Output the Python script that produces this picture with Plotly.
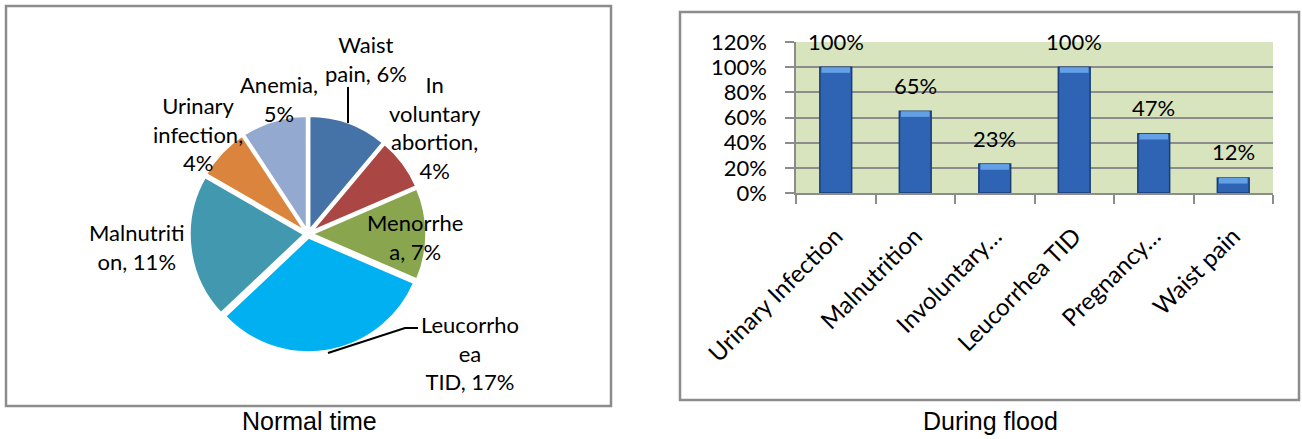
import plotly.graph_objects as go

W, H = 1302, 439

# ---------------- data ----------------
pie_categories = ["Waist pain", "In voluntary abortion", "Menorrhea", "Leucorrhoea TID",
                  "Malnutrition", "Urinary infection", "Anemia"]
pie_values = [6, 4, 7, 17, 11, 4, 5]
pie_label_wrap = ["Waist<br>pain", "In<br>voluntary<br>abortion", "Menorrhe<br>a",
                  "Leucorrho<br>ea<br>TID", "Malnutriti<br>on", "Urinary<br>infection", "Anemia"]
pie_label_sep = [" ", "<br>", " ", " ", " ", "<br>", "<br>"]
pie_colors = ["#4572A7", "#AA4643", "#89A54E", "#00B0F0", "#4198AF", "#DB843D", "#93A9CF"]

bar_categories = ["Urinary Infection", "Malnutrition", "Involuntary…", "Leucorrhea TID",
                  "Pregnancy…", "Waist pain"]
bar_values = [1.00, 0.65, 0.23, 1.00, 0.47, 0.12]
bar_labels = ["100%", "65%", "23%", "100%", "47%", "12%"]
y_tickvals = [0, 0.2, 0.4, 0.6, 0.8, 1.0, 1.2]
y_ticktext = ["0%", "20%", "40%", "60%", "80%", "100%", "120%"]

# ---------------- layout positions (pixels) ----------------
pie_label_pos = [(366, 59), (435, 127), (415, 237), (470, 353), (137, 247), (198, 134), (279, 99)]


def px(x):
    return x / W


def py(y):
    return 1 - y / H


LABEL_FONT = "Lato, Carlito, Calibri, sans-serif"
CAP_FONT = "Liberation Sans, Arial, sans-serif"

fig = go.Figure()

# pie
cx, cy, half = 308, 234, 118.5
fig.add_trace(go.Pie(
    labels=pie_categories, values=pie_values, sort=False, direction="clockwise",
    rotation=0, marker=dict(colors=pie_colors, line=dict(color="white", width=2.5)),
    pull=[0.03] * len(pie_values), textinfo="none", hoverinfo="label+value",
    showlegend=False,
    domain=dict(x=[px(cx - half), px(cx + half)], y=[py(cy + half), py(cy - half)]),
))

# bars (body + lighter bevel cap at the top of each bar)
cap = 0.045
fig.add_trace(go.Bar(
    x=bar_categories, y=bar_values, width=0.4,
    marker=dict(color="#2F64B4", line=dict(color="#1B3C74", width=1.5)),
    showlegend=False, hoverinfo="x+y",
))
fig.add_trace(go.Bar(
    x=bar_categories, y=[cap] * len(bar_values), base=[v - cap for v in bar_values], width=0.36,
    marker=dict(color="#63A0E6", line=dict(width=0)),
    showlegend=False, hoverinfo="skip",
))

annotations = []
for lab, sep, v, (lx, ly) in zip(pie_label_wrap, pie_label_sep, pie_values, pie_label_pos):
    annotations.append(dict(
        text=f"{lab},{sep}{v}%", x=px(lx), y=py(ly), xref="paper", yref="paper",
        xanchor="center", yanchor="middle", showarrow=False, align="center",
        font=dict(family=LABEL_FONT, size=22, color="black"),
    ))

for c, v, t in zip(bar_categories, bar_values, bar_labels):
    annotations.append(dict(
        text=t, x=c, y=v, xref="x", yref="y", yanchor="middle", yshift=26,
        showarrow=False, font=dict(family=LABEL_FONT, size=22, color="black"),
    ))

annotations.append(dict(text="Normal time", x=px(309), y=py(421), xref="paper", yref="paper",
                        xanchor="center", yanchor="middle",
                        showarrow=False, font=dict(family=CAP_FONT, size=25, color="black")))
annotations.append(dict(text="During flood", x=px(990), y=py(421), xref="paper", yref="paper",
                        xanchor="center", yanchor="middle",
                        showarrow=False, font=dict(family=CAP_FONT, size=25, color="black")))

shapes = [
    # frames
    dict(type="rect", xref="paper", yref="paper", x0=px(6), x1=px(611), y0=py(406), y1=py(6),
         line=dict(color="#8C8C8C", width=2.5)),
    dict(type="rect", xref="paper", yref="paper", x0=px(680), x1=px(1299), y0=py(400), y1=py(12),
         line=dict(color="#8C8C8C", width=2.5)),
    # leader lines
    dict(type="line", xref="paper", yref="paper", x0=px(348), x1=px(348), y0=py(87), y1=py(123),
         line=dict(color="black", width=2)),
    dict(type="path", xref="paper", yref="paper",
         path=f"M {px(328)},{py(353)} L {px(405)},{py(328)} L {px(418)},{py(328)}",
         line=dict(color="black", width=2)),
]

fig.update_layout(
    width=W, height=H, margin=dict(l=0, r=0, t=0, b=0, pad=0, autoexpand=False),
    paper_bgcolor="white",
    plot_bgcolor="#D7E4BD",
    annotations=annotations, shapes=shapes,
    barmode="overlay",
    xaxis=dict(domain=[px(796), px(1273)], tickangle=-45, tickson="boundaries", automargin=False,
               ticks="outside", ticklen=9, tickcolor="#8C8C8C", tickwidth=1.5,
               showline=True, linecolor="#8C8C8C", linewidth=1.5, showgrid=False,
               ticklabelstandoff=18,
               tickfont=dict(family=LABEL_FONT, size=24, color="black")),
    yaxis=dict(domain=[py(193), py(42)], range=[0, 1.2], tickvals=y_tickvals, ticktext=y_ticktext,
               automargin=False,
               ticks="outside", ticklen=9, tickcolor="#8C8C8C", tickwidth=1.5,
               showline=True, linecolor="#8C8C8C", linewidth=1.5,
               showgrid=True, gridcolor="#8C8C8C", gridwidth=1.5, zeroline=False,
               ticklabelstandoff=14,
               tickfont=dict(family=LABEL_FONT, size=22, color="black")),
)

fig.write_html("out.html", config={"displayModeBar": False},
               post_script="document.body.style.margin='0';")
